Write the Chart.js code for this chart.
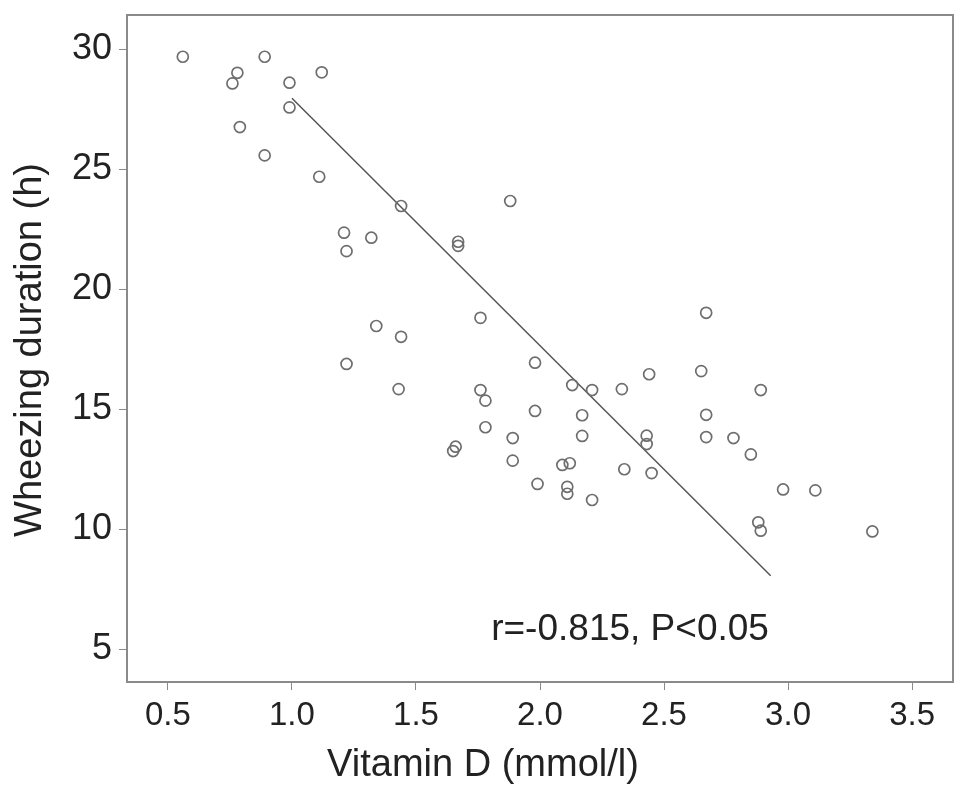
<!DOCTYPE html>
<html>
<head>
<meta charset="utf-8">
<script src="https://cdn.jsdelivr.net/npm/chart.js@4"></script>
<style>
  html, body { margin: 0; padding: 0; background: #fff; }
  #wrap { width: 969px; height: 796px; }
</style>
</head>
<body>
<div id="wrap"><canvas id="scatterChart" width="969" height="796"></canvas></div>
<script>
// vitamin D (mmol/l) vs wheezing duration (h)
const vitaminD = [
  0.56, 0.89, 0.78, 0.76, 0.99, 1.12, 0.99, 0.79, 0.89, 1.11,
  1.44, 1.21, 1.32, 1.22, 1.88, 1.67, 1.67, 1.76, 1.34, 1.44,
  1.22, 1.98, 2.13, 2.21, 2.33, 1.43, 1.76, 1.78, 1.98, 2.17,
  1.78, 2.17, 1.89, 1.66, 1.65, 1.89, 2.09, 2.12, 2.34, 1.99,
  2.11, 2.11, 2.21, 2.67, 2.44, 2.65, 2.89, 2.67, 2.43, 2.43,
  2.67, 2.78, 2.85, 2.45, 2.98, 3.11, 2.88, 2.89, 3.34
];
const wheezing = [
  29.68, 29.68, 29.01, 28.57, 28.60, 29.03, 27.57, 26.75, 25.57, 24.68,
  23.46, 22.35, 22.14, 21.58, 23.67, 21.97, 21.80, 18.80, 18.46, 18.01,
  16.88, 16.93, 16.00, 15.79, 15.83, 15.83, 15.79, 15.35, 14.92, 14.74,
  14.24, 13.88, 13.79, 13.43, 13.25, 12.85, 12.67, 12.74, 12.49, 11.88,
  11.76, 11.47, 11.21, 19.01, 16.45, 16.58, 15.79, 14.76, 13.89, 13.54,
  13.83, 13.79, 13.11, 12.33, 11.65, 11.61, 10.28,  9.93,  9.90
];
// fitted line end points
const fitX = [1.0, 2.93];
const fitY = [27.95, 8.05];

const xTicks = [0.5, 1.0, 1.5, 2.0, 2.5, 3.0, 3.5];
const yTicks = [5, 10, 15, 20, 25, 30];

const xTitle = 'Vitamin D (mmol/l)';
const yTitle = 'Wheezing duration (h)';
const statText = 'r=-0.815, P<0.05';
const statPos = [2.363, 5.8];

const font = "'Liberation Sans', Arial, sans-serif";

const frameAndText = {
  id: 'frameAndText',
  afterDatasetsDraw(chart) {
    const { ctx, chartArea, scales } = chart;
    ctx.save();
    // grey box round the plot
    ctx.strokeStyle = '#8a8a8a';
    ctx.lineWidth = 2;
    ctx.strokeRect(chartArea.left, chartArea.top,
      chartArea.right - chartArea.left, chartArea.bottom - chartArea.top);

    ctx.fillStyle = '#222';
    ctx.textAlign = 'center';
    ctx.textBaseline = 'middle';
    // correlation note
    ctx.font = '37px ' + font;
    ctx.fillText(statText, scales.x.getPixelForValue(statPos[0]),
      scales.y.getPixelForValue(statPos[1]));
    // axis titles, a bit left of centre like the original
    ctx.font = '38px ' + font;
    ctx.fillText(xTitle, 483, 766);
    ctx.translate(31, 350);
    ctx.rotate(-Math.PI / 2);
    ctx.fillText(yTitle, 0, 0);
    ctx.restore();
  }
};

const points = vitaminD.map((v, i) => ({ x: v, y: wheezing[i] }));
const fitLine = fitX.map((v, i) => ({ x: v, y: fitY[i] }));

new Chart(document.getElementById('scatterChart'), {
  type: 'scatter',
  data: {
    datasets: [
      {
        label: 'Patients',
        data: points,
        pointStyle: 'circle',
        pointRadius: 5.5,
        pointBorderWidth: 1.7,
        borderColor: '#6e6e6e',
        backgroundColor: 'rgba(0,0,0,0)',
      },
      {
        label: 'Fit',
        type: 'line',
        data: fitLine,
        borderColor: '#555',
        borderWidth: 1.5,
        pointRadius: 0,
        fill: false,
      },
    ],
  },
  options: {
    responsive: false,
    animation: false,
    layout: { padding: { top: 15, right: 16, left: 0, bottom: 0 } },
    plugins: {
      legend: { display: false },
      tooltip: { enabled: false },
    },
    scales: {
      x: {
        type: 'linear',
        min: 0.335,
        max: 3.665,
        afterBuildTicks: (scale) => { scale.ticks = xTicks.map(v => ({ value: v })); },
        afterFit: (scale) => { scale.height = 114; },
        grid: { display: true, drawOnChartArea: false, drawTicks: true, tickLength: 8, color: '#8a8a8a' },
        border: { display: false },
        ticks: {
          color: '#222',
          padding: 6,
          font: { family: font, size: 33 },
          callback: (v) => v.toFixed(1),
          maxRotation: 0,
        },
      },
      y: {
        type: 'linear',
        min: 3.625,
        max: 31.42,
        afterBuildTicks: (scale) => { scale.ticks = yTicks.map(v => ({ value: v })); },
        afterFit: (scale) => {
          scale.width = 127;
          scale.paddingTop = 0;
          scale.paddingBottom = 0;
        },
        grid: { display: true, drawOnChartArea: false, drawTicks: true, tickLength: 8, color: '#8a8a8a' },
        border: { display: false },
        ticks: {
          color: '#222',
          padding: 7,
          font: { family: font, size: 36 },
        },
      },
    },
  },
  plugins: [frameAndText],
});
</script>
</body>
</html>
